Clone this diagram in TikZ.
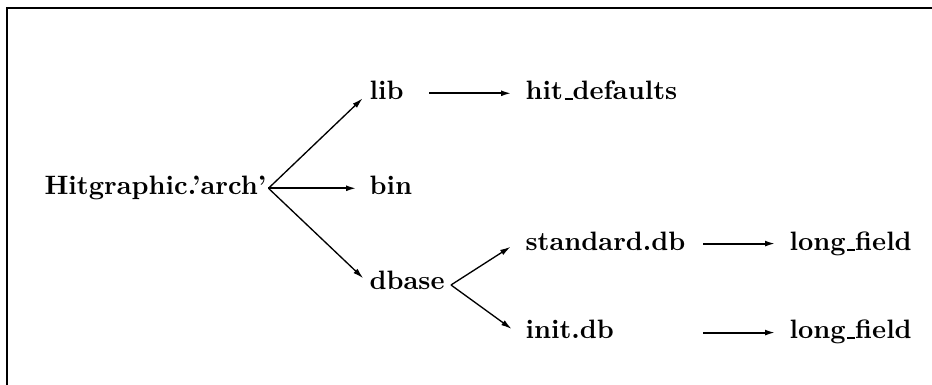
\documentclass[tikz,border=0pt]{standalone}
\usetikzlibrary{arrows.meta}
% short underscore rule sitting on the baseline
\newcommand{\lowbar}{\leavevmode\kern.06em\vbox{\hrule width .3em height .6pt}}
\begin{document}
% one unit = one pixel of a 932 x 385 canvas, y pointing down
\begin{tikzpicture}[x=0.3757pt, y=-0.3757pt,
  label/.style={inner sep=0pt, anchor=base west, font=\bfseries},
  edge/.style={-{Latex[length=4pt,width=2.2pt]}, line width=0.5pt},
  flat/.style={-{Latex[length=4pt,width=2.2pt]}, line width=0.75pt}]
\useasboundingbox (0,0) rectangle (932,385);
% open frame: top and left rules only
\draw[line width=0.85pt] (7,385) -- (7,7.8) -- (932,7.8);

\node[label] (root) at (44,195)  {Hitgraphic.'arch'};
\node[label] (lib)  at (369,100) {lib};
\node[label] (bin)  at (369,195) {bin};
\node[label] (db)   at (369,290) {dbase};
\node[label] (hit)  at (525,100) {hit\lowbar defaults};
\node[label] (sdb)  at (525,251) {standard.db};
\node[label] (idb)  at (525,339) {init.db};
\node[label] (lf1)  at (789,251) {long\lowbar field};
\node[label] (lf2)  at (789,339) {long\lowbar field};

\coordinate (fork) at ([shift={(1.7,-6.7)}]root.base east);
\draw[edge] (fork) -- ([shift={(-6.3,-1.7)}]lib.base west);
\draw[flat] (fork) -- ([shift={(-12.3,-6.7)}]bin.base west);
\draw[edge] (fork) -- ([shift={(-5.7,-11.7)}]db.base west);

\coordinate (split) at (451,285);
\draw[edge] (split) -- ([shift={(-14.3,-4.3)}]sdb.base west);
\draw[edge] (split) -- ([shift={(-13.3,-10)}]idb.base west);

\draw[flat] ([shift={(25,-6.7)}]lib.base east) -- ([shift={(-13.3,-6.7)}]hit.base west);
\draw[flat] ([shift={(-86,-7.4)}]lf1.base west) -- ([shift={(-13.3,-7.4)}]lf1.base west);
\draw[flat] ([shift={(-86,-6.4)}]lf2.base west) -- ([shift={(-13.3,-6.4)}]lf2.base west);
\end{tikzpicture}
\end{document}
